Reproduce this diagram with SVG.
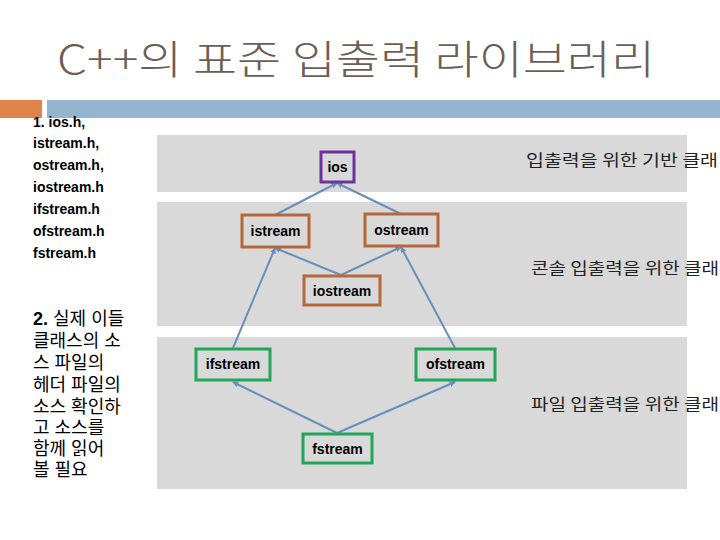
<svg xmlns="http://www.w3.org/2000/svg" width="720" height="540" viewBox="0 0 720 540">
<style>
.title{font-family:"Noto Sans CJK KR","Noto Sans",sans-serif;font-size:40px;font-weight:300;fill:#6b5e57}
.en{font-family:"Liberation Sans",Arial,sans-serif;font-weight:bold;font-size:14px;fill:#000}
.ko{font-family:"Liberation Sans","Noto Sans CJK KR",sans-serif;font-size:18px;fill:#000}
.band{fill:#d9d9d9}
.lab{font-family:"Noto Sans CJK KR",sans-serif;font-size:16px;fill:#222}
.box{fill:#d9d9d9;stroke-width:3}
.p{stroke:#7030a0}
.o{stroke:#b5683a}
.g{stroke:#23a559}
.nt{font-family:"Liberation Sans",Arial,sans-serif;font-weight:bold;font-size:14px;fill:#000;text-anchor:middle}
.c{stroke:#6690bb;stroke-width:2;fill:none;marker-end:url(#ah)}
</style>
<defs>
<marker id="ah" viewBox="0 0 10 10" refX="9" refY="5" markerWidth="3" markerHeight="3" orient="auto">
<path d="M0,0 L10,5 L0,10 z" fill="#6690bb"/>
</marker>
</defs>
<rect width="720" height="540" fill="#fff"/>
<text class="title" x="57" y="74" textLength="598" lengthAdjust="spacingAndGlyphs">C++의 표준 입출력 라이브러리</text>
<rect x="0" y="100" width="42" height="18" fill="#e0844c"/>
<rect x="47" y="100" width="673" height="18" fill="#94b4d0"/>
<g id="left-text">
<text class="en" x="33" y="127">1. ios.h,</text>
<text class="en" x="33" y="148">istream.h,</text>
<text class="en" x="33" y="170">ostream.h,</text>
<text class="en" x="33" y="192">iostream.h</text>
<text class="en" x="33" y="214">ifstream.h</text>
<text class="en" x="33" y="236">ofstream.h</text>
<text class="en" x="33" y="258">fstream.h</text>
<text class="ko" x="33" y="325"><tspan font-weight="bold">2.</tspan> 실제 이들</text>
<text class="ko" x="33" y="347">클래스의 소</text>
<text class="ko" x="33" y="369">스 파일의</text>
<text class="ko" x="33" y="391">헤더 파일의</text>
<text class="ko" x="33" y="413">소스 확인하</text>
<text class="ko" x="33" y="434">고 소스를</text>
<text class="ko" x="33" y="455">함께 읽어</text>
<text class="ko" x="33" y="476">볼 필요</text>
</g>
<g id="bands">
<rect class="band" x="157" y="135" width="530" height="57"/>
<rect class="band" x="157" y="202" width="530" height="124"/>
<rect class="band" x="157" y="337" width="530" height="152"/>
<text class="lab" x="526" y="166" textLength="192" lengthAdjust="spacingAndGlyphs">입출력을 위한 기반 클래</text>
<text class="lab" x="531" y="274" textLength="188" lengthAdjust="spacingAndGlyphs">콘솔 입출력을 위한 클래</text>
<text class="lab" x="531" y="410" textLength="188" lengthAdjust="spacingAndGlyphs">파일 입출력을 위한 클래</text>
</g>
<g id="connectors">
<line class="c" x1="275" y1="215" x2="337" y2="183"/>
<line class="c" x1="401" y1="214" x2="337" y2="183"/>
<line class="c" x1="341" y1="275" x2="275" y2="248"/>
<line class="c" x1="341" y1="275" x2="401" y2="247"/>
<line class="c" x1="233" y1="348" x2="275" y2="248"/>
<line class="c" x1="455" y1="348" x2="401" y2="247"/>
<line class="c" x1="337" y1="433" x2="233" y2="382"/>
<line class="c" x1="337" y1="433" x2="455" y2="382"/>
</g>
<g id="ios"><rect class="box p" x="321" y="152" width="33" height="30"/><text class="nt" x="337.5" y="172">ios</text></g>
<g id="istream"><rect class="box o" x="242" y="215" width="67" height="32"/><text class="nt" x="275.5" y="236">istream</text></g>
<g id="ostream"><rect class="box o" x="365" y="214" width="73" height="32"/><text class="nt" x="401.5" y="235">ostream</text></g>
<g id="iostream"><rect class="box o" x="304" y="276" width="76" height="29"/><text class="nt" x="342" y="296">iostream</text></g>
<g id="ifstream"><rect class="box g" x="196" y="349" width="74" height="31"/><text class="nt" x="233" y="369">ifstream</text></g>
<g id="ofstream"><rect class="box g" x="416" y="349" width="79" height="31"/><text class="nt" x="455.5" y="369">ofstream</text></g>
<g id="fstream"><rect class="box g" x="303" y="434" width="69" height="29"/><text class="nt" x="337.5" y="454">fstream</text></g>
</svg>
